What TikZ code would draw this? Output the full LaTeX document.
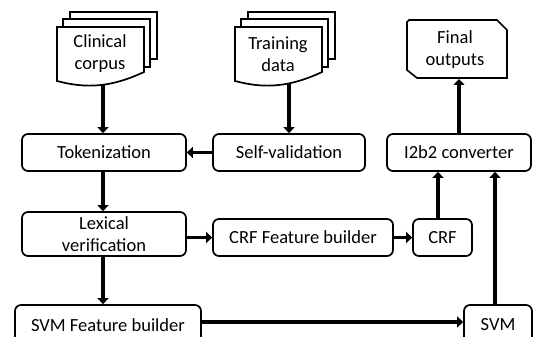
\documentclass[tikz,border=0pt]{standalone}
\usepackage{fontspec}
\setmainfont{Carlito}
\usetikzlibrary{arrows.meta}
\tikzset{
  box/.style={draw, line width=1.7pt, rounded corners=6pt, align=center, inner sep=0pt, fill=white},
  conn/.style={line width=3.6pt, -{Triangle[length=6pt,width=11pt]}},
  lbl/.style={align=center, inner sep=0pt},
  multidoc/.pic={
    \draw[line width=1.7pt, fill=white] (13,-15) rectangle (100,32);
    \draw[line width=1.7pt, fill=white] (6,-8) rectangle (93,40);
    \draw[line width=1.7pt, fill=white] (0,0) -- (87,0) -- (87,45)
       .. controls (55,60) and (30,62) .. (0,54) -- cycle;
  }
}
\begin{document}
\begin{tikzpicture}[x=1pt,y=-1pt, font=\fontsize{18.5}{22}\selectfont]
\useasboundingbox (0,0) rectangle (533,337);
% documents
\pic at (57,27) {multidoc};
\pic at (235,27) {multidoc};
\node[lbl] (cc) at (100,54) {Clinical\\corpus};
\node[lbl] (td) at (278,54) {Training\\data};
\coordinate (ccb) at (103,84);
\coordinate (tdb) at (289,83);
% final outputs
\draw[line width=1.7pt, fill=white] (409,20) -- (497,20) -- (507,30) -- (507,78) -- (417,78) -- (407,70) -- (407,22) -- cycle;
\node[lbl] (fo) at (455,50) {Final\\outputs};
\coordinate (fob) at (459,79);
% boxes
\node[box, minimum width=164pt, minimum height=37pt] (tok) at (104,152.5) {Tokenization};
\node[box, minimum width=152pt, minimum height=37pt] (sv) at (289,152.5) {Self-validation};
\node[box, minimum width=144pt, minimum height=37pt] (i2b2) at (459,152.5) {I2b2 converter};
\node[box, minimum width=164pt, minimum height=44pt] (lex) at (104,234) {Lexical\\verification};
\node[box, minimum width=180pt, minimum height=37pt] (crffb) at (303,237.5) {CRF Feature builder};
\node[box, minimum width=59pt, minimum height=37pt] (crf) at (442.5,237.5) {CRF};
\node[box, minimum width=186pt, minimum height=40pt, text depth=0pt] (svmfb) at (108,325) {SVM Feature builder};
\node[box, minimum width=68pt, minimum height=40pt] (svm) at (498,325) {SVM};
% connectors
\draw[conn] (ccb) -- (ccb |- tok.north);
\draw[conn] (tdb) -- (tdb |- sv.north);
\draw[conn] (sv.west) -- (tok.east);
\draw[conn] (i2b2.north -| fob) -- (fob);
\draw[conn] (tok.south -| ccb) -- (lex.north -| ccb);
\draw[conn] (lex.east |- crffb.west) -- (crffb.west);
\draw[conn] (crffb.east) -- (crf.west);
\draw[conn] (crf.north -| 438,0) -- (i2b2.south -| 438,0);
\draw[conn] (lex.south -| ccb) -- (svmfb.north -| ccb);
\draw[conn] (svmfb.east |- 0,322) -- (svm.west |- 0,322);
\draw[conn] (svm.north -| 495,0) -- (i2b2.south -| 495,0);
\end{tikzpicture}
\end{document}
